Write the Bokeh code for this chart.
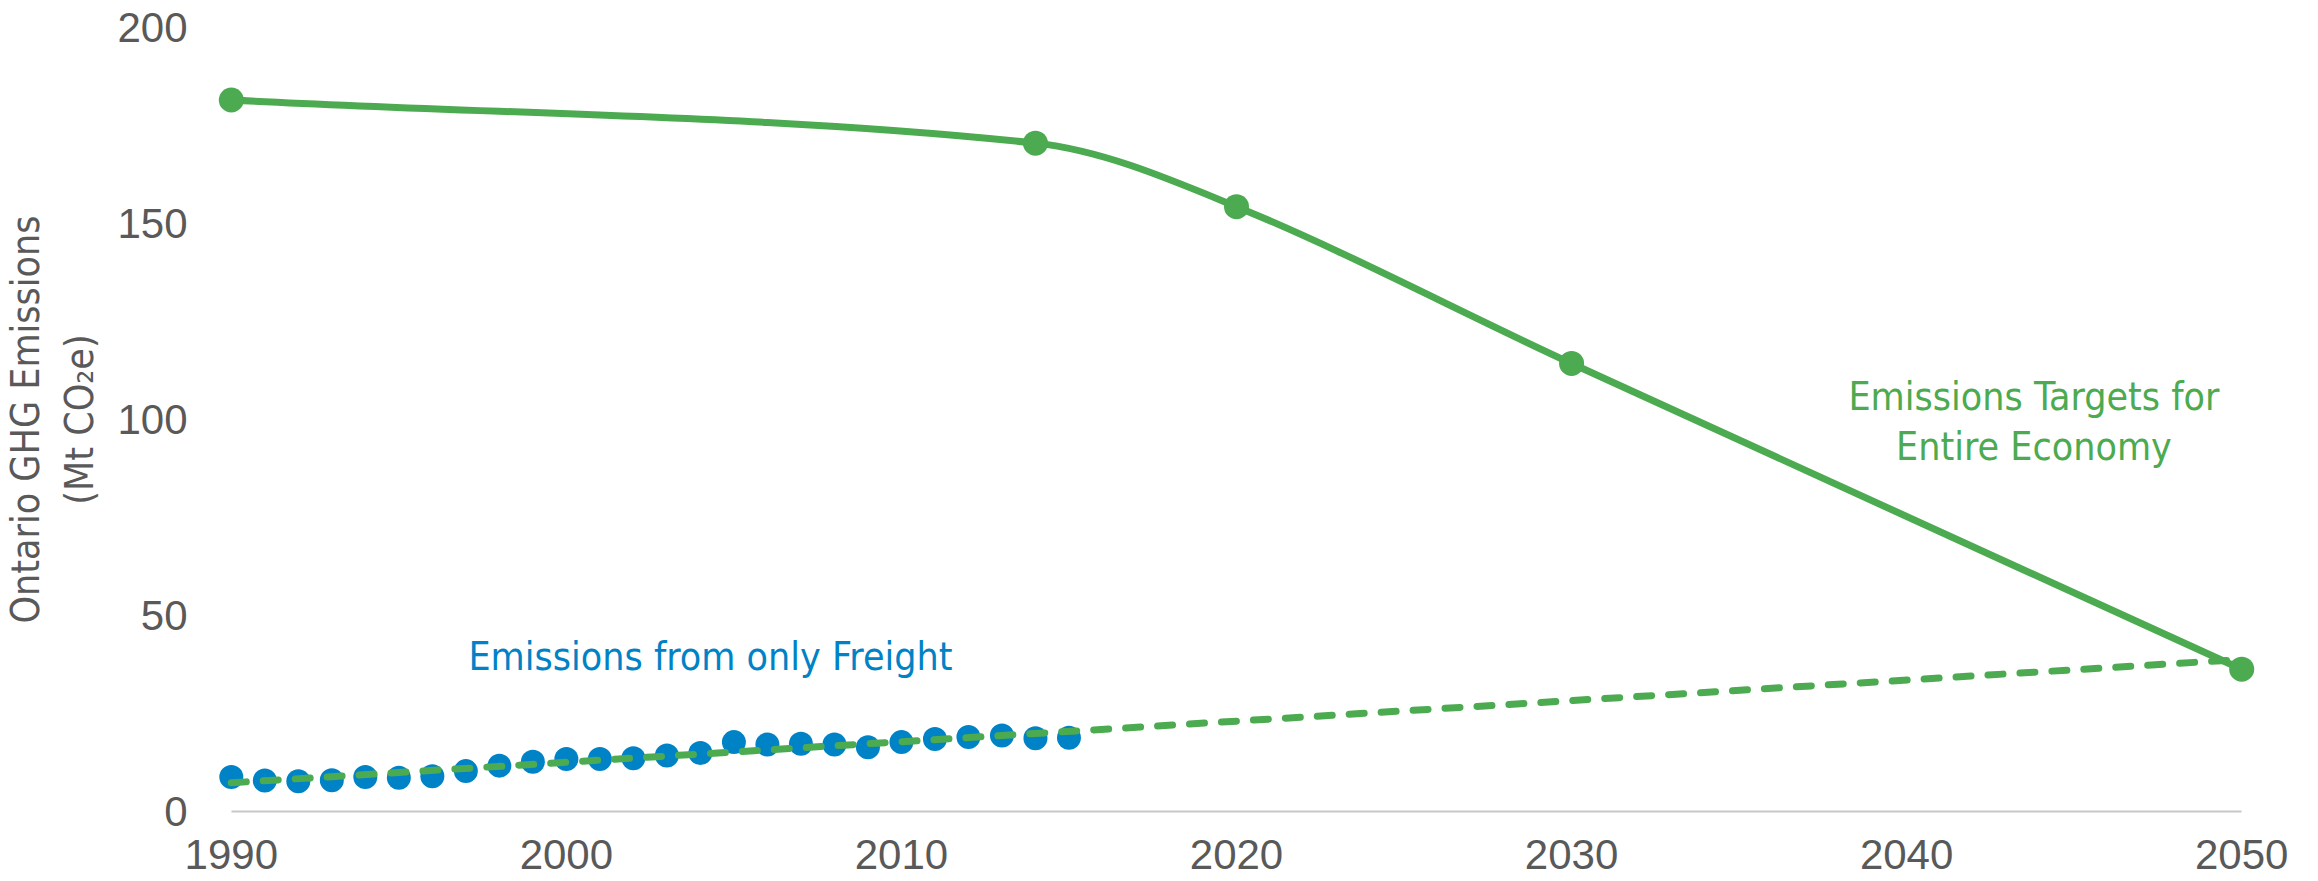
import numpy as np
from bokeh.plotting import figure
from bokeh.models import Range1d, FixedTicker, Label
from bokeh.embed import file_html
from bokeh.resources import INLINE

# ---- data ----
freight_years = list(range(1990, 2016))
freight_mt = [8.8, 7.9, 7.7, 8.0, 8.8, 8.6, 9.0, 10.3, 11.7, 12.7, 13.4, 13.4, 13.6,
              14.3, 14.9, 17.7, 17.1, 17.3, 17.1, 16.4, 17.7, 18.5, 19.0, 19.4, 18.7, 18.8]
target_years = [1990, 2014, 2020, 2030, 2050]
target_mt = [181.5, 170.5, 154.3, 114.3, 36.3]
x_ticks = [1990, 2000, 2010, 2020, 2030, 2040, 2050]
y_ticks = [0, 50, 100, 150, 200]

GREEN = "#4CAA50"
BLUE = "#0083C6"
GRAY = "#595959"
COND = "'Liberation Sans Narrow', 'DejaVu Sans Condensed', 'Liberation Sans', sans-serif"

p = figure(width=2318, height=881, output_backend="svg", toolbar_location=None,
           x_range=Range1d(1989.2, 2050.8), y_range=Range1d(0, 200),
           min_border_left=198, min_border_right=50, min_border_top=27, min_border_bottom=70)
p.outline_line_color = None
p.xgrid.visible = False
p.ygrid.visible = False

# freight points
p.scatter(freight_years, freight_mt, size=24, color=BLUE, line_color=None)

# linear trendline of freight extended to 2050
slope, icpt = np.polyfit(freight_years, freight_mt, 1)
tx = [freight_years[0], target_years[-1]]
ty = [slope * t + icpt for t in tx]
p.line(tx, ty, line_color=GREEN, line_width=7, line_dash="15 17", line_cap="round")

# smoothed target line (non-uniform cubic Hermite -> Bezier)
n = len(target_years)
xs, ys = target_years, target_mt
m = []
for i in range(n):
    a = max(i - 1, 0); b = min(i + 1, n - 1)
    m.append((ys[b] - ys[a]) / (xs[b] - xs[a]))
seg = dict(x0=[], y0=[], x1=[], y1=[], cx0=[], cy0=[], cx1=[], cy1=[])
for i in range(n - 1):
    h = (xs[i + 1] - xs[i]) / 3
    seg["x0"].append(xs[i]); seg["y0"].append(ys[i])
    seg["x1"].append(xs[i + 1]); seg["y1"].append(ys[i + 1])
    seg["cx0"].append(xs[i] + h); seg["cy0"].append(ys[i] + m[i] * h)
    seg["cx1"].append(xs[i + 1] - h); seg["cy1"].append(ys[i + 1] - m[i + 1] * h)
p.bezier(x0="x0", y0="y0", x1="x1", y1="y1", cx0="cx0", cy0="cy0", cx1="cx1", cy1="cy1",
         source=seg, line_color=GREEN, line_width=7, line_cap="round")
p.scatter(target_years, target_mt, size=25, color=GREEN, line_color=None)

# annotations
p.add_layout(Label(x=2004.3, y=39.5, text="Emissions from only Freight", text_align="center",
                   text_baseline="middle", text_font_size="39px", text_color=BLUE, text_font=COND))
p.add_layout(Label(x=2043.8, y=99.5, text="Emissions Targets for\nEntire Economy", text_align="center",
                   text_baseline="middle", text_font_size="39px", text_color=GREEN, text_font=COND,
                   text_line_height=1.12))

# axes
xa = p.xaxis[0]
xa.ticker = FixedTicker(ticks=x_ticks)
xa.bounds = (x_ticks[0], x_ticks[-1])
xa.axis_line_color = "#C8C8C8"
xa.axis_line_width = 2
xa.major_tick_line_color = None
xa.minor_tick_line_color = None
xa.major_label_text_font_size = "42px"
xa.major_label_text_color = GRAY
xa.major_label_text_font = "Liberation Sans"
xa.major_label_standoff = 22

ya = p.yaxis[0]
ya.ticker = FixedTicker(ticks=y_ticks)
ya.axis_line_color = None
ya.major_tick_line_color = None
ya.minor_tick_line_color = None
ya.major_label_text_font_size = "42px"
ya.major_label_text_color = GRAY
ya.major_label_text_font = "Liberation Sans"
ya.major_label_standoff = 11
ya.axis_label = "Ontario GHG Emissions\n(Mt CO\u2082e)"
ya.axis_label_text_font = COND
ya.axis_label_text_font_size = "39px"
ya.axis_label_text_font_style = "normal"
ya.axis_label_text_color = GRAY
ya.axis_label_standoff = 12

open("out.html", "w").write(file_html(p, INLINE))
